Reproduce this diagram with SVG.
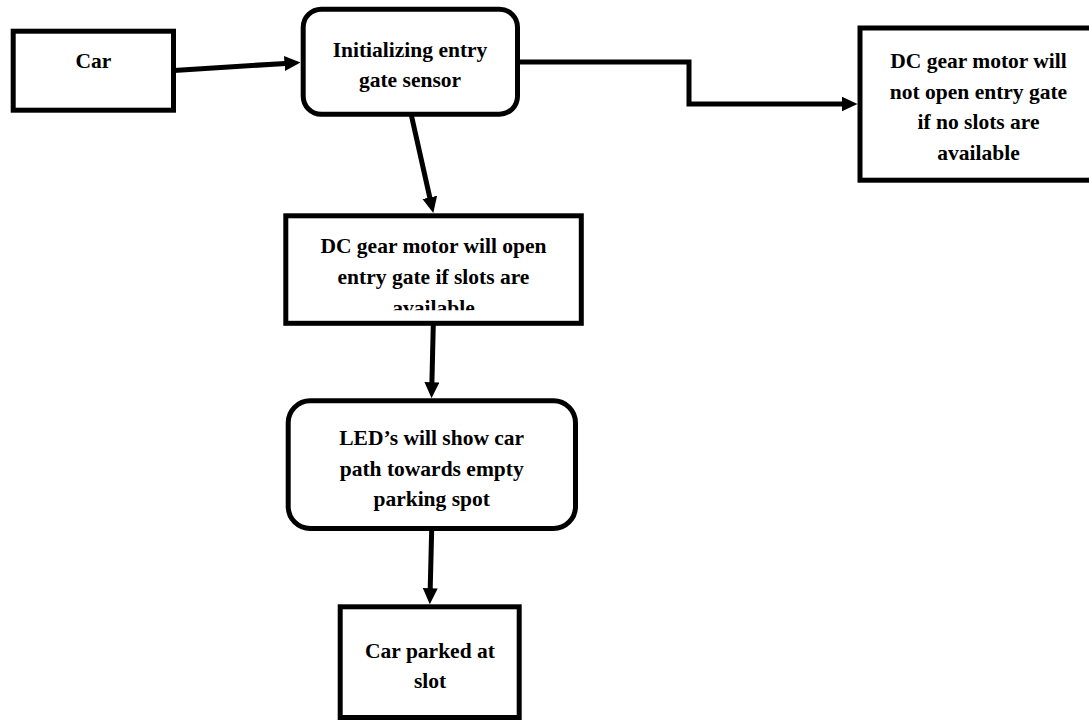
<svg xmlns="http://www.w3.org/2000/svg" width="1089" height="720" viewBox="0 0 1089 720">
<style>
.box{fill:#fff;stroke:#000;stroke-width:5}
.ln{fill:none;stroke:#000;stroke-width:5}
.t{font-family:'Liberation Serif','Times New Roman',Tinos,serif;font-weight:700;font-size:21.5px;fill:#000;text-anchor:middle}
</style>
<defs>
<marker id="ah" markerUnits="userSpaceOnUse" markerWidth="17" markerHeight="16" refX="1" refY="7.5" orient="auto" viewBox="0 0 17 16">
<path d="M0,0 L16,7.5 L0,15 z" fill="#000"/>
</marker>
<clipPath id="clipMid"><rect x="288" y="218" width="292" height="92.3"/></clipPath>
</defs>
<rect width="1089" height="720" fill="#fff"/>
<g id="connectors">
<line class="ln" x1="174" y1="70.4" x2="285.5" y2="63.4" marker-end="url(#ah)"/>
<polyline class="ln" points="518,62 689,62 689,104 842.5,104" marker-end="url(#ah)"/>
<line class="ln" x1="411.3" y1="115" x2="430" y2="198.4" marker-end="url(#ah)"/>
<line class="ln" x1="433.3" y1="324" x2="431.9" y2="383.3" marker-end="url(#ah)"/>
<line class="ln" x1="431.7" y1="529" x2="430.2" y2="589.3" marker-end="url(#ah)"/>
</g>
<g id="car">
<rect class="box" x="13.2" y="31.2" width="160.3" height="79"/>
<text class="t" x="93.3" y="68">Car</text>
</g>
<g id="init">
<rect class="box" x="303.2" y="9.2" width="214.3" height="105" rx="18"/>
<text class="t" x="410" y="56.7">Initializing entry</text>
<text class="t" x="410" y="87.3">gate sensor</text>
</g>
<g id="noslots">
<rect class="box" x="860" y="28" width="240" height="152.2"/>
<text class="t" x="978.5" y="68.3">DC gear motor will</text>
<text class="t" x="978.5" y="99">not open entry gate</text>
<text class="t" x="978.5" y="129.3">if no slots are</text>
<text class="t" x="978.5" y="159.5">available</text>
</g>
<g id="open">
<rect class="box" x="285.8" y="215.8" width="295.5" height="107.5"/>
<g clip-path="url(#clipMid)">
<text class="t" x="433.5" y="252.7">DC gear motor will open</text>
<text class="t" x="433.5" y="284">entry gate if slots are</text>
<text class="t" x="433.5" y="315">available</text>
</g>
</g>
<g id="led">
<rect class="box" x="288.2" y="400.8" width="287.3" height="127.7" rx="22"/>
<text class="t" x="431.7" y="445">LED’s will show car</text>
<text class="t" x="431.7" y="475.5">path towards empty</text>
<text class="t" x="431.7" y="506">parking spot</text>
</g>
<g id="parked">
<rect class="box" x="340.2" y="606.8" width="179" height="110.7"/>
<text class="t" x="430" y="657.7">Car parked at</text>
<text class="t" x="430" y="688.3">slot</text>
</g>
</svg>
